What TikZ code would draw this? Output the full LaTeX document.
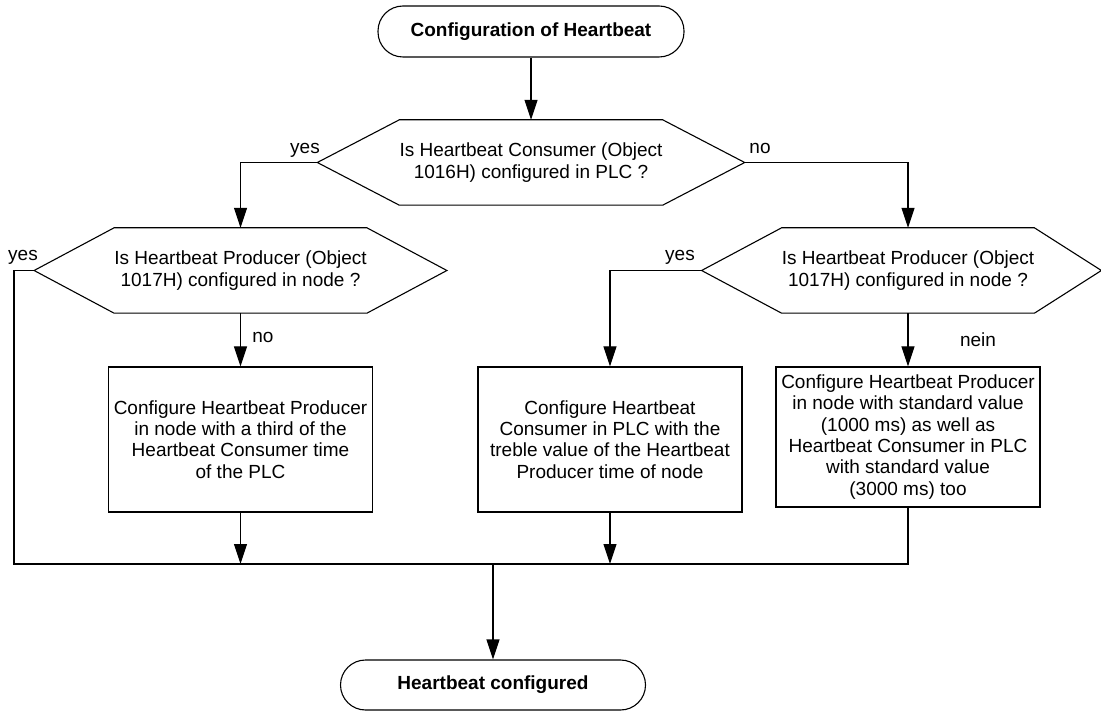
\documentclass[tikz,border=0pt]{standalone}
\usepackage{fontspec}
\setmainfont{Liberation Sans}
\usetikzlibrary{arrows.meta}

\begin{document}
\begin{tikzpicture}[x=1pt,y=1pt,
 every node/.style={font=\fontsize{19}{21.3}\selectfont},
 term/.style={draw,line width=1.1pt,rounded corners=25pt,minimum width=306pt,
   minimum height=51pt,font=\fontsize{19}{21.3}\selectfont\bfseries},
 hexbox/.style={minimum width=248pt,minimum height=85pt,align=center,inner sep=0pt},
 box/.style={draw,line width=1.1pt,align=center,minimum width=264pt,minimum height=145pt,inner sep=2pt},
 lbl/.style={inner sep=0pt},
 wire/.style={line width=1.1pt},
 arrow/.style={wire,-{Triangle[length=20pt,width=13pt]}}]
\useasboundingbox (0,0) rectangle (1101,-711);
\node[term] (start) at (531,-31.5) {Configuration of Heartbeat};
\node[hexbox] (q1) at (531,-162.5) {Is Heartbeat Consumer (Object\\1016H) configured in PLC ?};
\node[hexbox] (q2) at (240.5,-270.5) {Is Heartbeat Producer (Object\\1017H) configured in node ?};
\node[hexbox] (q3) at (908,-270.5) {Is Heartbeat Producer (Object\\1017H) configured in node ?};
\node[box] (b1) at (240.5,-439.5) {Configure Heartbeat Producer\\in node with a third of the\\Heartbeat Consumer time\\of the PLC};
\node[box] (b2) at (610,-439.5) {Configure Heartbeat\\Consumer in PLC with the\\treble value of the Heartbeat\\Producer time of node};
\node[box,minimum height=140pt] (b3) at (908,-437) {Configure Heartbeat Producer\\in node with standard value\\(1000 ms) as well as\\Heartbeat Consumer in PLC\\with standard value\\(3000 ms) too};
\node[term,minimum width=305pt,minimum height=50pt] (stop) at (493,-685) {Heartbeat configured};
% decision outlines
\foreach \q/\l/\r in {q1/82/82,q2/80/80,q3/80/67}{
  \coordinate (\q-w) at ([xshift=-\l pt]\q.west);
  \coordinate (\q-e) at ([xshift=\r pt]\q.east);
  \draw[wire] (\q.north west) -- (\q.north east) -- (\q-e) -- (\q.south east)
    -- (\q.south west) -- (\q-w) -- cycle;
}
\coordinate (bus) at (493,-564);
\coordinate (lft) at (14,-270.5);
\draw[arrow] (start) -- (q1);
\draw[arrow] (q1-w) -| (q2.north);
\draw[arrow] (q1-e) -| (q3.north);
\draw[arrow] (q2) -- (b1);
\draw[arrow] (q3-w) -| (b2.north);
\draw[arrow] (q3) -- (b3);
\draw[wire] (q2-w) -- (lft) |- (bus);
\draw[wire] (b3.south) |- (bus);
\draw[arrow] (b1.south) -- (b1.south |- bus);
\draw[arrow] (b2.south) -- (b2.south |- bus);
\draw[arrow] (bus) -- (stop);
% branch labels
\node[lbl] (yes1) at (305,-150) {yes};
\node[lbl] (no1) at (760,-148) {no};
\node[lbl] (yes2) at (23,-257) {yes};
\node[lbl] (no2) at (263,-337) {no};
\node[lbl] (yes3) at (680,-257) {yes};
\node[lbl] (nein3) at (978,-340) {nein};
\end{tikzpicture}
\end{document}
